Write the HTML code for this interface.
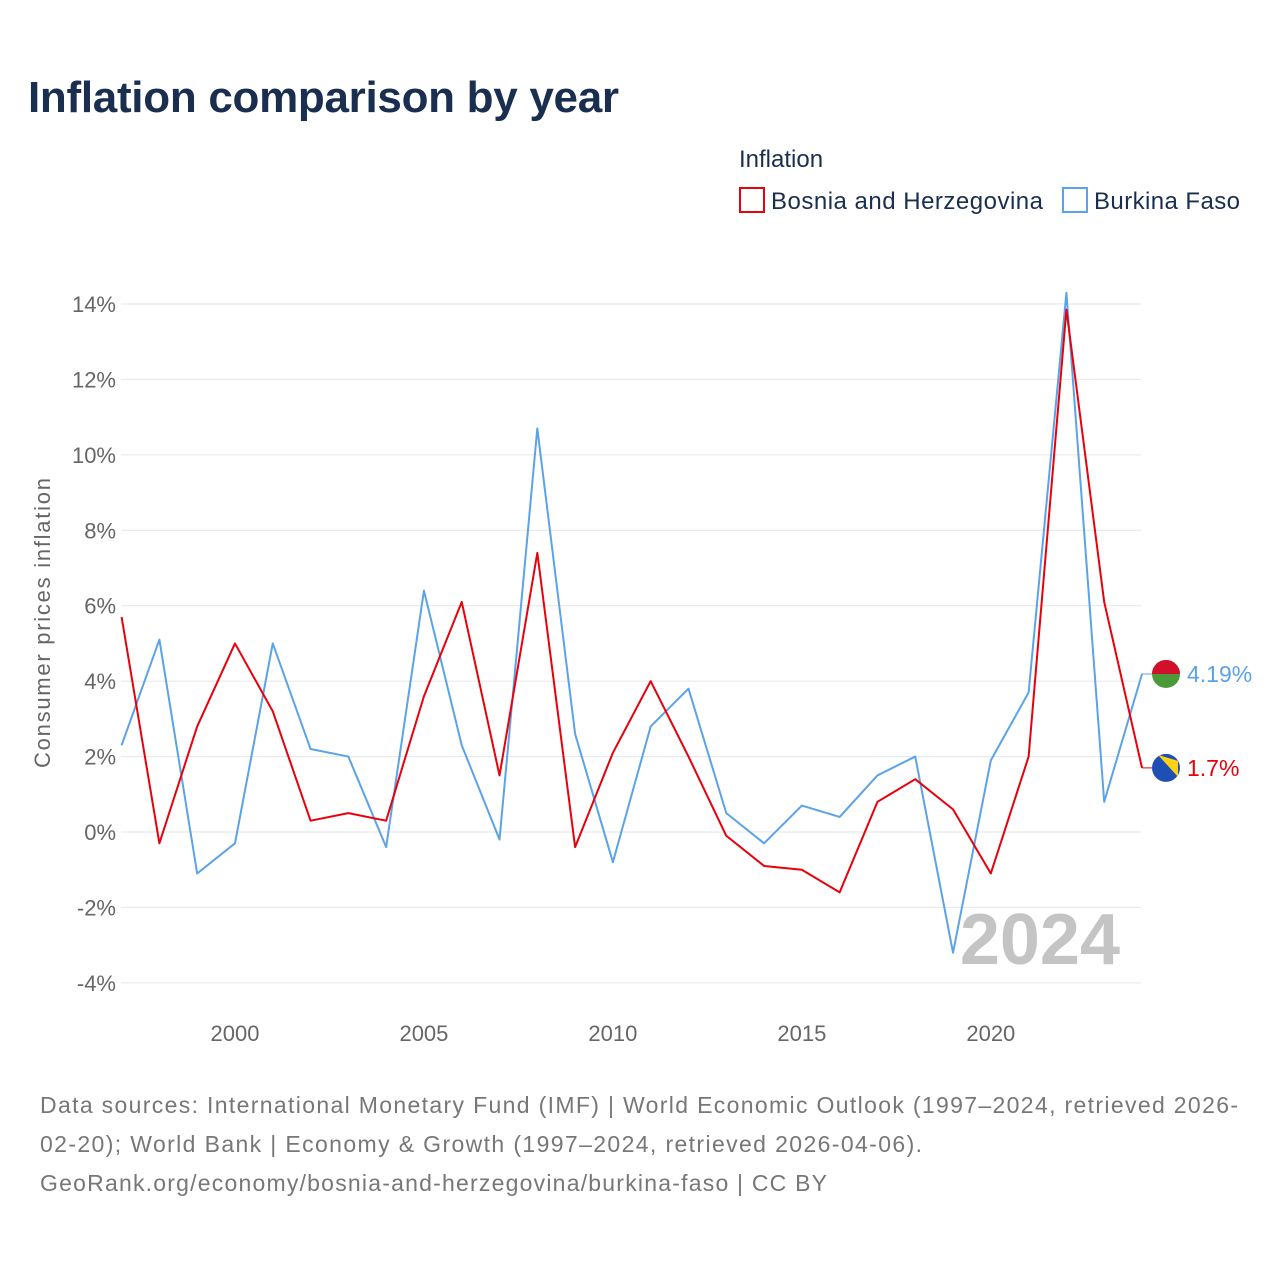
<!DOCTYPE html>
<html><head><meta charset="utf-8"><style>
body{margin:0;background:#fff;font-family:"Liberation Sans",sans-serif;}
svg text{font-family:"Liberation Sans",sans-serif;}
</style></head><body>
<svg id="c" width="1280" height="1280" xmlns="http://www.w3.org/2000/svg">
<text x="28" y="112" font-size="44" font-weight="bold" fill="#1a2e4f" textLength="591">Inflation comparison by year</text>
<text x="739" y="167" font-size="24" fill="#1a2e4f">Inflation</text>
<g><rect x="740" y="188" width="24" height="24" fill="none" stroke="#e8000b" stroke-width="2"/><text x="771" y="209" font-size="24" fill="#1a2e4f" textLength="272">Bosnia and Herzegovina</text></g>
<g><rect x="1063" y="188" width="24" height="24" fill="none" stroke="#5ba3e8" stroke-width="2"/><text x="1094" y="209" font-size="24" fill="#1a2e4f" textLength="146">Burkina Faso</text></g>
<text transform="translate(50,623) rotate(-90)" text-anchor="middle" font-size="22" fill="#666" textLength="290">Consumer prices inflation</text>
<g id="grid"></g><g id="xt"></g>
<text x="1120" y="964" text-anchor="end" font-size="72" font-weight="bold" fill="#c4c4c4">2024</text>
<g id="lines"></g>
<text x="40" y="1113" font-size="23" fill="#777" textLength="1198">Data sources: International Monetary Fund (IMF) | World Economic Outlook (1997–2024, retrieved 2026-</text>
<text x="40" y="1152" font-size="23" fill="#777" textLength="882">02-20); World Bank | Economy &amp; Growth (1997–2024, retrieved 2026-04-06).</text>
<text x="40" y="1191" font-size="23" fill="#777" textLength="787">GeoRank.org/economy/bosnia-and-herzegovina/burkina-faso | CC BY</text>
</svg>
<script>
const years=[1997,1998,1999,2000,2001,2002,2003,2004,2005,2006,2007,2008,2009,2010,2011,2012,2013,2014,2015,2016,2017,2018,2019,2020,2021,2022,2023,2024];
const bihValues=[5.7,-0.3,2.8,5.0,3.2,0.3,0.5,0.3,3.6,6.1,1.5,7.4,-0.4,2.1,4.0,2.0,-0.1,-0.9,-1.0,-1.6,0.8,1.4,0.6,-1.1,2.0,13.85,6.1,1.7];
const bfaValues=[2.3,5.1,-1.1,-0.3,5.0,2.2,2.0,-0.4,6.4,2.3,-0.2,10.7,2.6,-0.8,2.8,3.8,0.5,-0.3,0.7,0.4,1.5,2.0,-3.2,1.9,3.7,14.3,0.8,4.19];
const yTicks=[-4,-2,0,2,4,6,8,10,12,14];
const xTicks=[2000,2005,2010,2015,2020];
const NS="http://www.w3.org/2000/svg";
const x=v=>121.6+(v-1997)*(1142-121.6)/27;
const y=v=>832-v*(832-304)/14;
function mk(t,a,p){const e=document.createElementNS(NS,t);for(const k in a)e.setAttribute(k,a[k]);p.appendChild(e);return e;}
const g=document.getElementById('grid');
yTicks.forEach(t=>{
 const l=mk('line',{x1:121,x2:1141,y1:y(t),y2:y(t),stroke:'#e6e6e6','stroke-width':1},g);
 
 
 const tx=mk('text',{x:116,y:y(t)+8,'text-anchor':'end','font-size':22,fill:'#666'},g);
 tx.textContent=t+'%';
 
 
});
const xg=document.getElementById('xt');
xTicks.forEach(t=>{
 const tx=mk('text',{x:x(t),y:1041,'text-anchor':'middle','font-size':22,fill:'#666'},xg);
 tx.textContent=t;
 
 
});
const lg=document.getElementById('lines');
function series(vals,col,name,label){
 const pts=vals.map((v,i)=>x(years[i])+','+y(v)).join(' ');
 const p=mk('polyline',{points:pts,fill:'none',stroke:col,'stroke-width':2,'stroke-linejoin':'round'},lg);
 
 
 const lv=vals[vals.length-1],ly=y(lv);
 const c=mk('line',{x1:x(2024),x2:1152,y1:ly,y2:ly,stroke:col,'stroke-width':1},lg);
 
 
 const f=mk('circle',{cx:1166,cy:ly,r:14,fill:name==='bih'?'#1e4fb5':'#4a9a3a'},lg);
 
 
 const h=mk('path',{d:name==='bih'?`M1158 ${ly-13} L1178 ${ly-7} L1178 ${ly+9} Z`:`M1152 ${ly} A14 14 0 0 1 1180 ${ly} Z`,fill:name==='bih'?'#fcd116':'#d2102c'},lg);
 
 
 const t=mk('text',{x:1187,y:ly+8,'font-size':23,fill:col},lg);
 t.textContent=label;
 
 
}
series(bfaValues,'#5ba3e8','bfa','4.19%');
series(bihValues,'#e8000b','bih','1.7%');
</script>
</body></html>
